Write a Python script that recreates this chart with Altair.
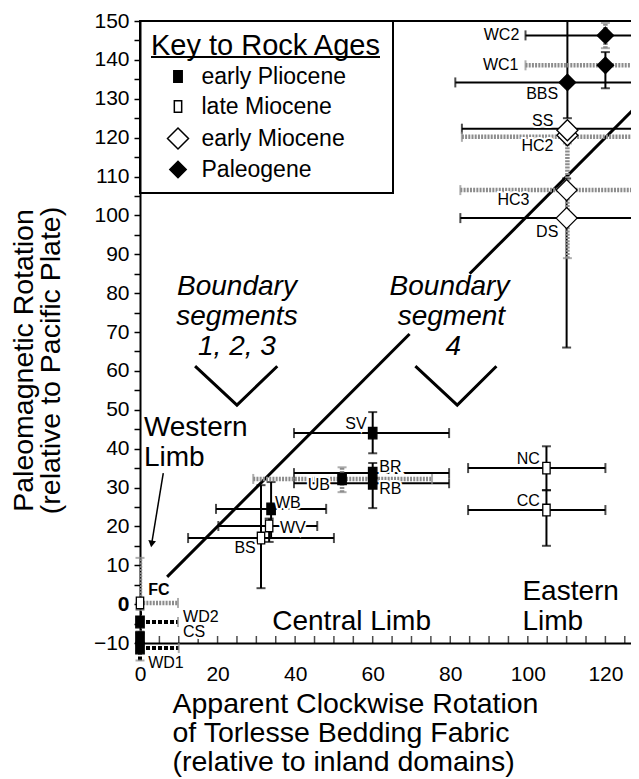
import altair as alt
import pandas as pd

# ---------------- data ----------------
AGES = ["early Pliocene", "late Miocene", "early Miocene", "Paleogene"]
AGE_FILL = ["black", "white", "white", "black"]
AGE_SHAPE = ["M-0.4,-0.55H0.4V0.55H-0.4Z",      # small filled rectangle
             "M-0.35,-0.55H0.35V0.55H-0.35Z",   # small open rectangle
             "M-1,0L0,-1L1,0L0,1Z",             # open diamond
             "M-0.78,0L0,-0.78L0.78,0L0,0.78Z"]  # filled diamond
SYMBOL_SIZE = 441

SITES = ["WC2", "WC1", "BBS", "HC2", "SS", "HC3", "DS", "SV", "BR", "RB", "UB",
         "WB", "WV", "BS", "NC", "CC", "FC", "WD2", "CS", "WD1"]
SITE_X = [120, 120, 110.2, 110.2, 110.2, 110, 110, 60, 60, 60, 52.1,
          33.8, 33.3, 31.2, 104.8, 104.8, 0, 0, 0, 0]
SITE_Y = [146.3, 138.6, 134.2, 120.6, 121.9, 106.5, 99.3, 44, 33.7, 31.1, 32.2,
          24.5, 20.1, 17, 35, 24.2, 0.3, -4.6, -8.6, -11.3]
SITE_AGE = ["Paleogene", "Paleogene", "Paleogene", "early Miocene", "early Miocene",
            "early Miocene", "early Miocene", "early Pliocene", "early Pliocene",
            "early Pliocene", "early Pliocene", "early Pliocene", "late Miocene",
            "late Miocene", "late Miocene", "late Miocene", "late Miocene",
            "early Pliocene", "early Pliocene", "early Pliocene"]

# horizontal error bars
H_SITE = ["WC2", "WC1", "BBS", "SS", "HC2", "HC3", "DS", "SV", "BR", "RB", "UB",
          "WB", "WV", "BS", "NC", "CC", "FC", "WD2", "WD1"]
H_Y = [146.3, 138.6, 134.2, 122.3, 120.2, 106.5, 99.3, 44, 33.7, 31.1, 32.2,
       24.5, 20.1, 17, 35, 24.2, 0.3, -4.6, -11.3]
H_LO = [99.4, 99.4, 81.3, 83, 83, 82.6, 82.6, 39.7, 39.7, 39.7, 29.2,
        19.6, 20.2, 12.4, 84.6, 84.6, 0, 0, 0]
H_HI = [140.6, 140.6, 139, 137.4, 137.4, 137.4, 137.4, 79.7, 79.7, 79.7, 75.3,
        48, 45.7, 50, 120, 120, 9.8, 9.8, 10]
H_STYLE = ["solid", "gray", "solid", "solid", "gray", "gray", "solid", "solid", "solid",
           "solid", "gray", "solid", "solid", "solid", "solid", "solid", "gray", "dash", "dash"]

# vertical error bars
V_SITE = ["WC2", "WC1", "BBS", "HC2", "DS", "SV", "BR", "RB", "UB", "WB", "WV", "BS",
          "NC", "CC", "FC", "WD2", "CS", "WD1"]
V_X = [120, 120, 110.2, 110.2, 110, 60, 60, 60, 52.1, 33.8, 33.3, 31.2,
       104.8, 104.8, 0, 0, 0, 0]
V_LO = [143, 132.7, 125, 89, 66, 38.8, 31, 24.7, 28.8, 17, 16, 4.1,
        29.3, 15, 0.3, -7.5, -10.5, -14.5]
V_HI = [149.5, 142, 150, 118.5, 109.5, 49.4, 36.3, 31.1, 35.2, 31.4, 22, 30.6,
        40.6, 29.3, 11.9, -1.5, -7, -12]
V_STYLE = ["gray", "solid", "solid", "gray", "solid", "solid", "solid", "solid", "gray",
           "solid", "solid", "solid", "solid", "solid", "gray", "dash", "dash", "dash"]

# point labels
L_TEXT = ["WC2", "WC1", "BBS", "SS", "HC2", "HC3", "DS", "SV", "BR", "RB", "UB",
          "WB", "WV", "BS", "NC", "CC", "FC", "WD2", "CS", "WD1"]
L_X = [97.8, 97.6, 103.7, 106.6, 106.6, 96.3, 105, 55.7, 61.7, 61.7, 49,
       34.8, 36.1, 27.1, 100.1, 100.1, 2.1, 11.1, 11.1, 2.1]
L_Y = [146.3, 138.6, 131.1, 124.4, 117.8, 103.9, 95.7, 46.3, 35.2, 29.6, 30.6,
       26, 19.6, 14.4, 37.3, 26.5, 3.6, -3.3, -7.2, -15.1]
L_ALIGN = ["right", "right", "center", "right", "right", "center", "center", "center",
           "left", "left", "right", "left", "left", "center", "center", "center",
           "left", "left", "left", "left"]

# annotations
A_TEXT = ["Boundary", "segments", "1, 2, 3", "Boundary", "segment", "4"]
A_X = [25.0, 25.0, 25.0, 79.8, 80.3, 80.8]
A_Y = [81.5, 73.8, 66.1, 81.5, 73.8, 66.1]
R_TEXT = ["Western", "Limb", "Central Limb", "Eastern", "Limb"]
R_X = [1.0, 1.0, 34.1, 98.6, 98.6]
R_Y = [45.3, 37.6, -4.6, 3.1, -4.6]

# chevrons and 1:1 line
V_SHAPE_ID = ["a", "a", "a", "b", "b", "b"]
V_SHAPE_X = [14.2, 25.0, 35.4, 71.0, 81.8, 91.9]
V_SHAPE_Y = [61.2, 51.2, 61.2, 61.2, 51.2, 61.2]
DIAG_ID = ["s1", "s1", "s2", "s2"]
DIAG_X = [7, 69.5, 85, 140]
DIAG_Y = [7, 69.5, 85, 140]
ARROW_X = [6.0, 3.0]
ARROW_Y = [33.7, 15.5]

X_LABELS = [0, 20, 40, 60, 80, 100, 120]
X_TICKS = list(range(0, 130, 5))
Y_TICKS = list(range(-10, 155, 5))
XMAX = 126.6
YMIN, YMAX = -10, 150

# ---------------- scales / styles ----------------
XS = alt.Scale(domain=[0, XMAX], nice=False, zero=False)
YS = alt.Scale(domain=[YMIN, YMAX], nice=False, zero=False)
FONT = "Liberation Sans"
STYLE = {
    "solid": dict(color="black", strokeWidth=2),
    "gray": dict(color="#8c8c8c", strokeWidth=4.5, strokeDash=[2, 1.2]),
    "dash": dict(color="black", strokeWidth=4, strokeDash=[4, 2]),
}
CAPCOL = {"solid": "black", "gray": "#8c8c8c", "dash": "#8c8c8c"}

pts = pd.DataFrame({"site": SITES, "x": SITE_X, "y": SITE_Y, "age": SITE_AGE})
hb = pd.DataFrame({"site": H_SITE, "y": H_Y, "lo": H_LO, "hi": H_HI, "style": H_STYLE})
vb = pd.DataFrame({"site": V_SITE, "x": V_X, "lo": V_LO, "hi": V_HI, "style": V_STYLE})
labels = pd.DataFrame({"t": L_TEXT, "x": L_X, "y": L_Y, "align": L_ALIGN})
ann = pd.DataFrame({"t": A_TEXT, "x": A_X, "y": A_Y})
reg = pd.DataFrame({"t": R_TEXT, "x": R_X, "y": R_Y})
chev = pd.DataFrame({"id": V_SHAPE_ID, "x": V_SHAPE_X, "y": V_SHAPE_Y, "o": range(6)})
diag = pd.DataFrame({"id": DIAG_ID, "x": DIAG_X, "y": DIAG_Y, "o": range(4)})
arrow = pd.DataFrame({"x": ARROW_X, "y": ARROW_Y, "o": [0, 1]})
xt = pd.DataFrame({"x": X_TICKS})

hcaps = pd.concat([hb[["lo", "y", "style"]].rename(columns={"lo": "x"}),
                   hb[["hi", "y", "style"]].rename(columns={"hi": "x"})])
hcaps = hcaps[(hcaps.x > 0) & (hcaps.x <= XMAX)]
vcaps = pd.concat([vb[["x", "lo", "style"]].rename(columns={"lo": "y"}),
                   vb[["x", "hi", "style"]].rename(columns={"hi": "y"})])
vcaps = vcaps[vcaps.y < YMAX]

X_TITLE = ["Apparent Clockwise Rotation", "of Torlesse Bedding Fabric",
           "(relative to inland domains)"]
Y_TITLE = ["Paleomagnetic Rotation", "(relative to Pacific Plate)"]
xaxis = alt.Axis(values=X_LABELS, ticks=False, domainColor="black", domainWidth=2,
                 labelFontSize=21, labelColor="black", labelPadding=20, labelFlush=False,
                 grid=False, title=X_TITLE, titleFontSize=28.5, titleFontWeight="normal",
                 titleColor="black", titleAlign="left", titleAnchor="start", titleX=32,
                 titleY=46, titleBaseline="top", titleLineHeight=29)
yaxis = alt.Axis(values=Y_TICKS, labelExpr="datum.value % 10 === 0 ? datum.label : ''",
                 tickSize=6, tickWidth=1.5, tickColor="black", domainColor="black",
                 domainWidth=2, labelFontSize=21, labelColor="black", labelPadding=5,
                 labelFlush=False, labelOverlap=False, grid=False,
                 labelFontWeight={"condition": {"test": "datum.value === 0", "value": "bold"},
                                  "value": "normal"},
                 title=Y_TITLE, titleFontSize=28.5, titleFontWeight="normal",
                 titleColor="black", titleAlign="center", titleBaseline="top",
                 titleX=-131, titleY=339, titleLineHeight=27)


def X(f):
    return alt.X(f, type="quantitative", scale=XS, axis=xaxis)


def Y(f):
    return alt.Y(f, type="quantitative", scale=YS, axis=yaxis)


layers = []

# diagonal 1:1 line
layers.append(alt.Chart(diag).mark_line(color="black", strokeWidth=3, clip=True).encode(
    x=X("x"), y=Y("y"), detail="id:N", order="o:Q"))

# top frame line
layers.append(alt.Chart(pts).mark_rule(color="black", strokeWidth=2).encode(
    y=alt.datum(YMAX, scale=YS, axis=yaxis)))

# x axis inward ticks
layers.append(alt.Chart(xt).mark_tick(orient="vertical", size=7, thickness=1.5,
                                      color="black", yOffset=-3.5).encode(
    x=X("x"), y=alt.datum(YMIN, scale=YS, axis=yaxis)))

# error bars
for s, st in STYLE.items():
    for clip in (True, False):
        h = hb[hb["style"] == s]
        h = h[(h.y >= YMIN)] if clip else h[(h.y < YMIN)]
        if len(h):
            layers.append(alt.Chart(h).mark_rule(clip=clip, **st).encode(
                x=X("lo"), x2="hi", y=Y("y")))
        v = vb[vb["style"] == s]
        v = v[(v.lo >= YMIN)] if clip else v[(v.lo < YMIN)]
        if len(v):
            layers.append(alt.Chart(v).mark_rule(clip=clip, **st).encode(
                x=X("x"), y=Y("lo"), y2="hi"))
    hc = hcaps[hcaps["style"] == s]
    if len(hc):
        layers.append(alt.Chart(hc).mark_tick(orient="vertical", size=10, thickness=2,
                                              color=CAPCOL[s]).encode(x=X("x"), y=Y("y")))
    vc = vcaps[vcaps["style"] == s]
    if len(vc):
        layers.append(alt.Chart(vc).mark_tick(orient="horizontal", size=9, thickness=2,
                                              color=CAPCOL[s]).encode(x=X("x"), y=Y("y")))

# chevrons and arrow
layers.append(alt.Chart(chev).mark_line(color="black", strokeWidth=3).encode(
    x=X("x"), y=Y("y"), detail="id:N", order="o:Q"))
layers.append(alt.Chart(arrow).mark_line(color="black", strokeWidth=1.5).encode(
    x=X("x"), y=Y("y"), order="o:Q"))
layers.append(alt.Chart(arrow.iloc[[1]]).mark_point(shape="triangle-down", filled=True,
                                                    color="black", size=60, angle=9,
                                                    opacity=1).encode(x=X("x"), y=Y("y")))

# points with legend
LEG = alt.Legend(title="Key to Rock Ages", orient="none", legendX=0, legendY=0, padding=11,
                 strokeColor="black", titleFontSize=29, titleLimit=400,
                 titleFontWeight="normal", titleColor="black", titlePadding=4,
                 labelFontSize=23, labelColor="black", labelOffset=12, symbolOffset=15.5,
                 rowPadding=6, symbolSize=SYMBOL_SIZE, symbolStrokeWidth=1.5)
layers.append(alt.Chart(pts).mark_point(filled=True, strokeWidth=1.3, size=SYMBOL_SIZE,
                                        opacity=1).encode(
    x=X("x"), y=Y("y"),
    shape=alt.Shape("age:N", scale=alt.Scale(domain=AGES, range=AGE_SHAPE), legend=LEG),
    fill=alt.Fill("age:N", scale=alt.Scale(domain=AGES, range=AGE_FILL), legend=LEG),
    stroke=alt.Stroke("age:N", scale=alt.Scale(domain=AGES, range=["black"] * 4),
                      legend=LEG)))

# legend title underline (decoration)
layers.append(alt.Chart(pts).mark_rule(color="black", strokeWidth=1.5).encode(
    x=alt.value(11), x2=alt.value(240), y=alt.value(36)))

# point labels with white halo
for a in ["left", "center", "right"]:
    d = labels[labels["align"] == a]
    for dd, fw in ((d[d.t != "FC"], "normal"), (d[d.t == "FC"], "bold")):
        if len(dd) == 0:
            continue
        layers.append(alt.Chart(dd).mark_text(align=a, baseline="middle", fontSize=16,
                                              fontWeight=fw, stroke="white", strokeWidth=4,
                                              color="white").encode(
            x=X("x"), y=Y("y"), text="t:N"))
        layers.append(alt.Chart(dd).mark_text(align=a, baseline="middle", fontSize=16,
                                              fontWeight=fw, color="black").encode(
            x=X("x"), y=Y("y"), text="t:N"))

# annotations
layers.append(alt.Chart(ann).mark_text(align="center", baseline="middle", fontSize=28,
                                       fontStyle="italic", color="black").encode(
    x=X("x"), y=Y("y"), text="t:N"))
layers.append(alt.Chart(reg).mark_text(align="left", baseline="middle", fontSize=28,
                                       color="black").encode(
    x=X("x"), y=Y("y"), text="t:N"))

chart = alt.layer(*layers).properties(
    width=491, height=622,
    autosize=alt.AutoSizeParams(type="none"),
    padding={"left": 132, "top": 13, "right": 0, "bottom": 136},
).configure(font=FONT).configure_view(stroke=None).configure_legend(strokeWidth=2)

chart.save("out.html", embed_options={"renderer": "svg", "actions": False})
